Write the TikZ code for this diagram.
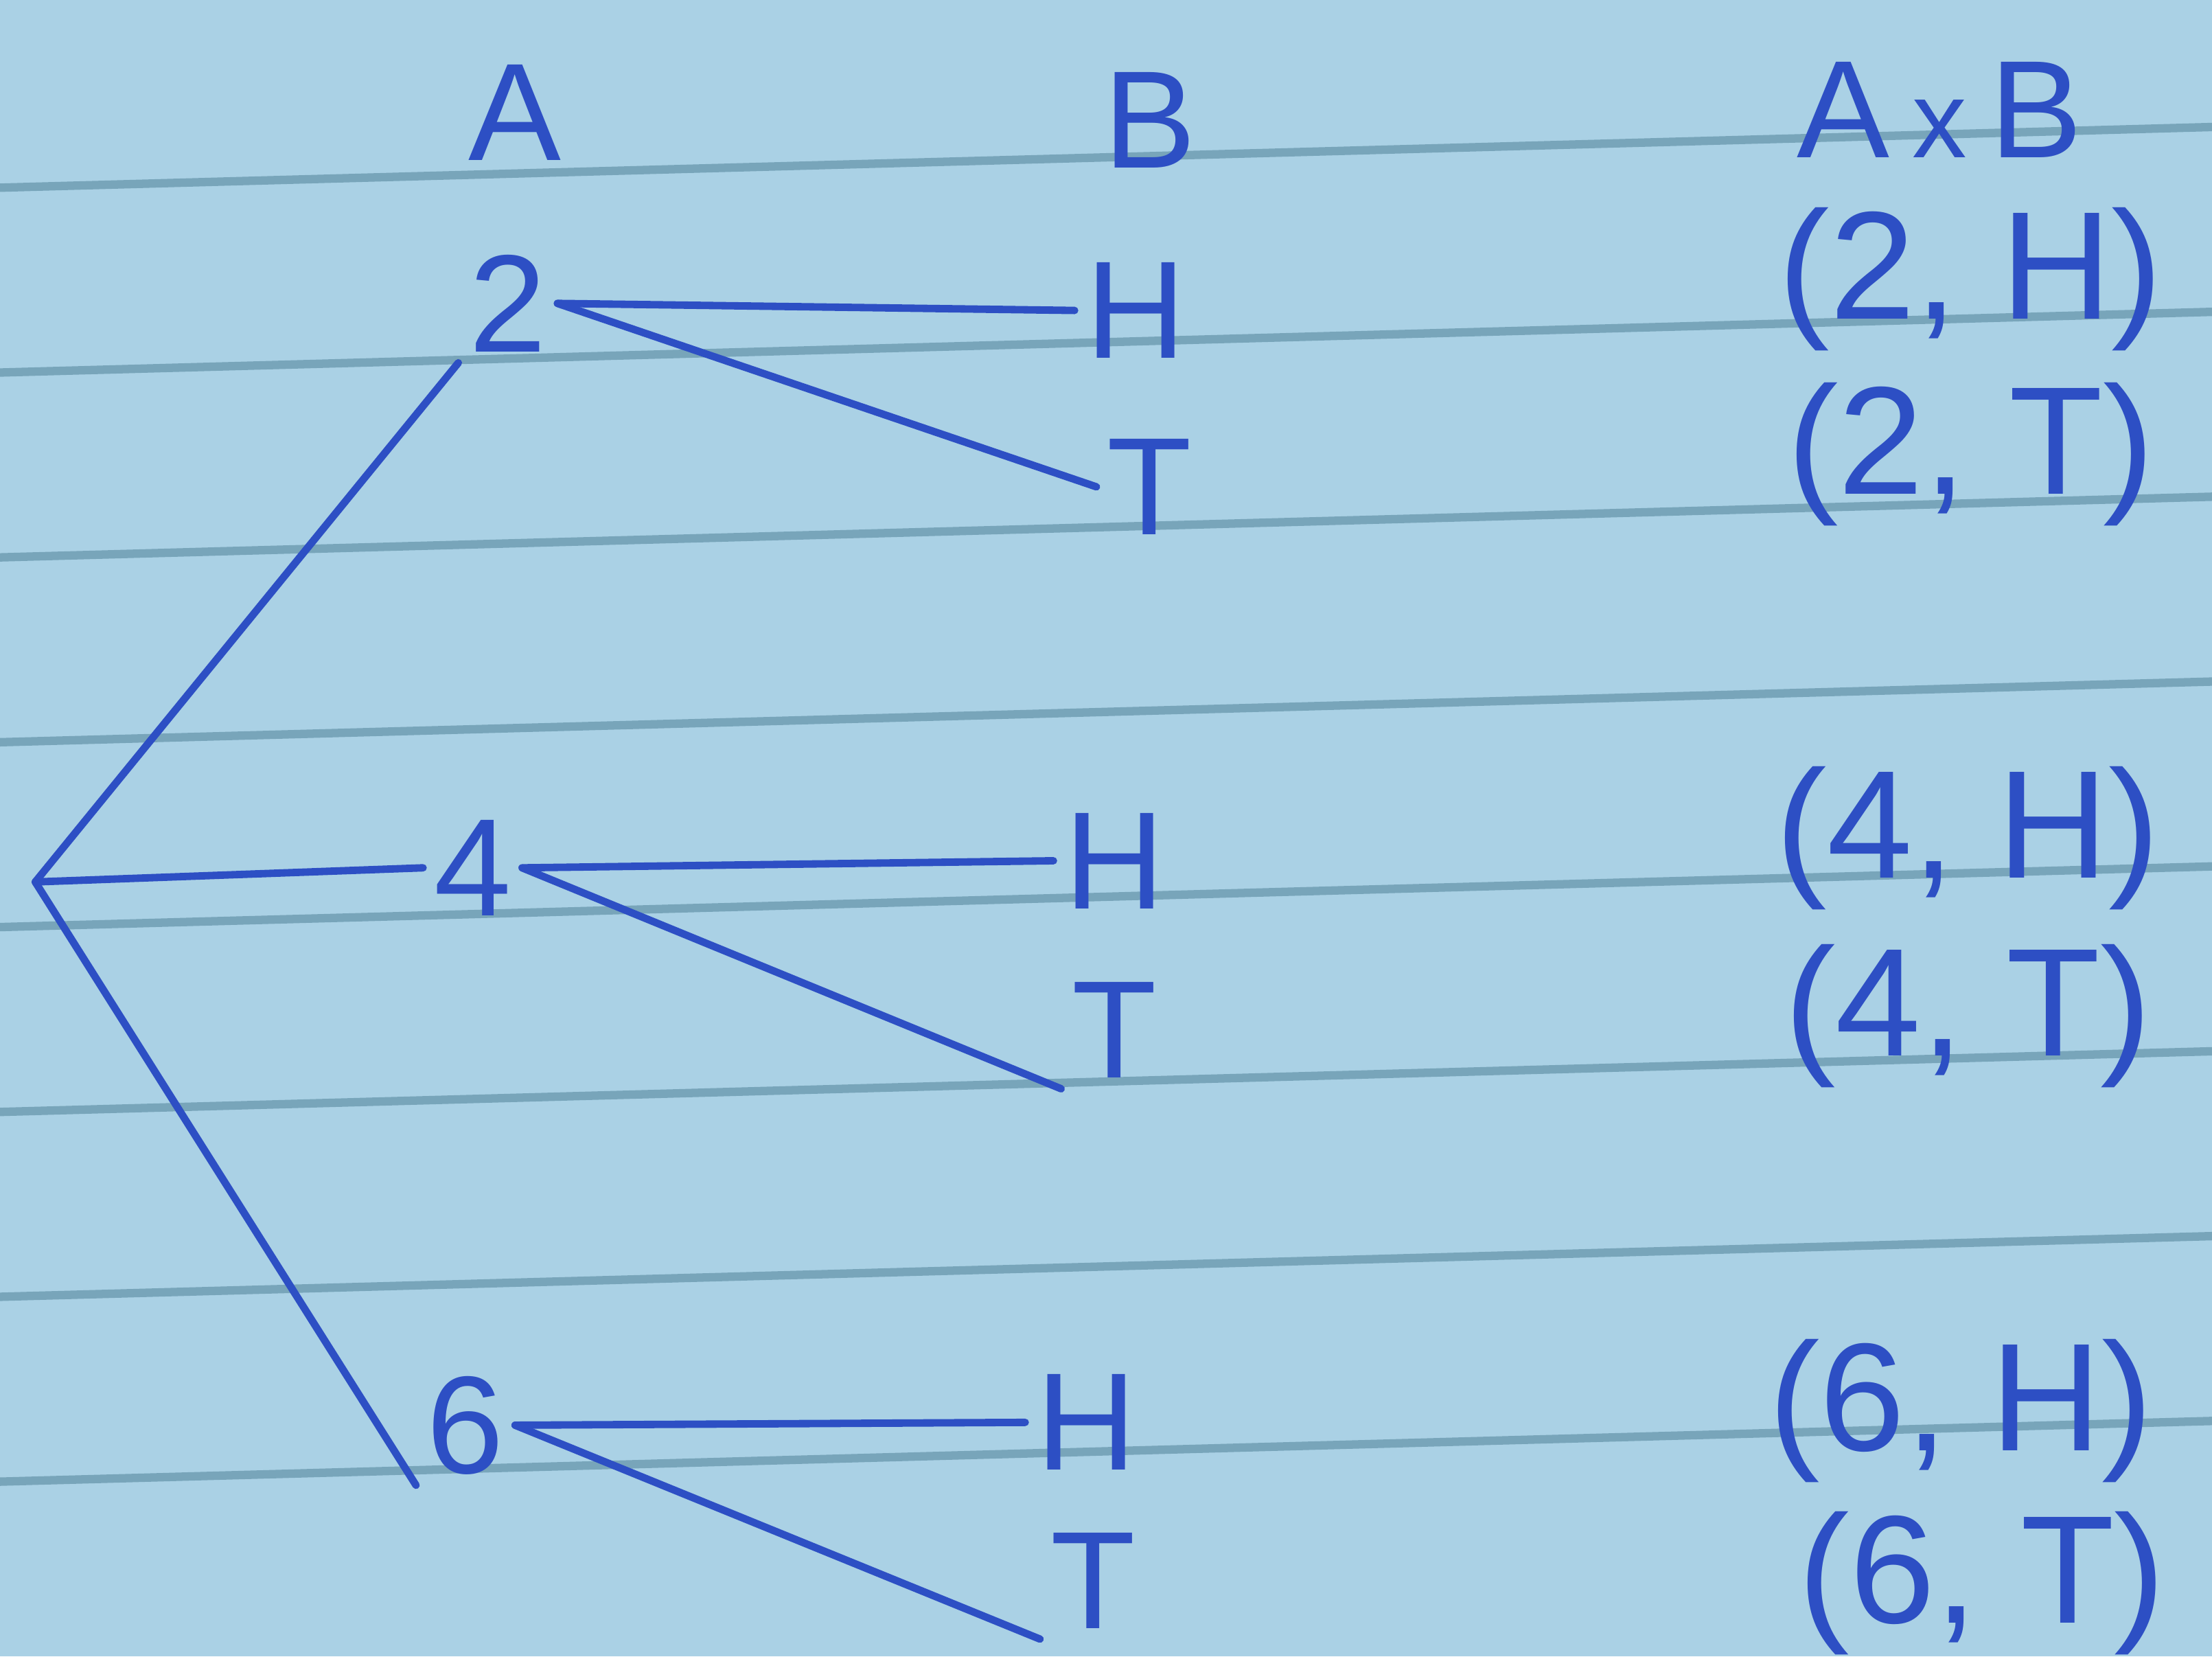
\documentclass[tikz,border=0pt]{standalone}
\usepackage{fontspec}
\setmainfont{Liberation Sans}
\usepackage{tikz}
\usetikzlibrary{positioning,calc}
\definecolor{paperBlue}{HTML}{AAD1E5}
\definecolor{ruleGray}{HTML}{78A5BA}
\definecolor{inkBlue}{HTML}{2D4FC4}
\begin{document}
\begin{tikzpicture}[
    every node/.style={text=inkBlue,inner sep=2pt},
    lbl/.style ={font=\fontsize{28}{30}\selectfont},
    pair/.style={font=\fontsize{31}{33}\selectfont},
    br/.style  ={draw=inkBlue,line width=1.5pt,line cap=round},
    rule/.style={draw=ruleGray,line width=1.7pt}
  ]
  %% Paper and its ruled lines
  \fill[paperBlue] (0,0) rectangle (15.68,-11.74);
  \useasboundingbox (0,0) rectangle (15.68,-11.74);
  \foreach \k in {0,...,7}
    \draw[rule] (0,{-1.33-1.31*\k}) -- (15.68,{-0.90-1.31*\k});
  %% Column headings
  \node[lbl] (hA)  at ( 3.65,-0.80) {A};
  \node[lbl] (hB)  at ( 8.15,-0.85) {B};
  \node[lbl] (hAB) at (13.75,-0.78) {A\,{\fontsize{22}{24}\selectfont x}\,B};
  %% Root and the elements of A
  \coordinate (root) at (0.25,-6.25);
  \node[lbl] (a2) at (3.60,-2.15) {2};
  \node[lbl] (a4) at (3.35,-6.15) {4};
  \node[lbl] (a6) at (3.30,-10.10) {6};
  %% Elements of B
  \node[lbl] (h2) at (8.05,-2.20) {H};
  \node[lbl] (t2) at (8.15,-3.45) {T};
  \node[lbl] (h4) at (7.90,-6.10) {H};
  \node[lbl] (t4) at (7.90,-7.30) {T};
  \node[lbl] (h6) at (7.70,-10.08) {H};
  \node[lbl] (t6) at (7.75,-11.20) {T};
  %% Pairs of A x B
  \node[pair] (p2h) at (13.97,-1.98) {(2, H)};
  \node[pair] (p2t) at (13.97,-3.22) {(2, T)};
  \node[pair] (p4h) at (13.95,-5.94) {(4, H)};
  \node[pair] (p4t) at (13.95,-7.20) {(4, T)};
  \node[pair] (p6h) at (13.90,-10.00) {(6, H)};
  \node[pair] (p6t) at (14.05,-11.22) {(6, T)};
  %% Branches
  \draw[br] (root) -- (a2.south west);
  \draw[br] (root) -- (a4.west);
  \draw[br] (root) -- (a6.south west);
  \draw[br] (a2.east) -- (h2.west);
  \draw[br] (a2.east) -- (t2.west);
  \draw[br] (a4.east) -- (h4.west);
  \draw[br] (a4.east) -- (t4.south west);
  \draw[br] (a6.east) -- (h6.west);
  \draw[br] (a6.east) -- (t6.south west);
\end{tikzpicture}
\end{document}
